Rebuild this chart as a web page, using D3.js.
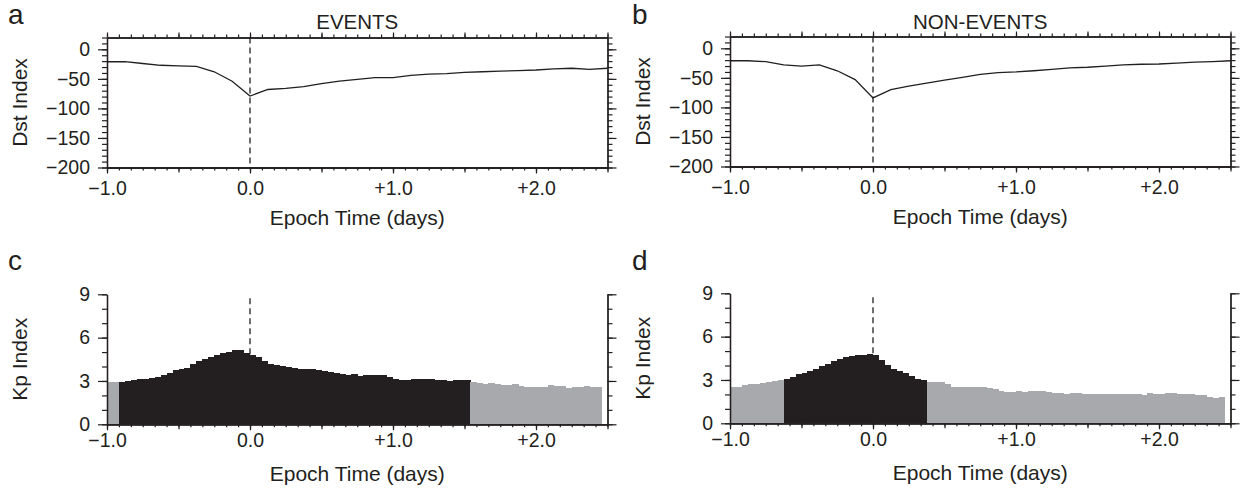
<!DOCTYPE html>
<html><head><meta charset="utf-8">
<script src="https://cdn.jsdelivr.net/npm/d3@7"></script>
<style>
body{margin:0;background:#fff}
text{font-family:"Liberation Sans",Arial,Helvetica,sans-serif;fill:#231f20}
</style>
</head><body>
<svg id="chart" width="1246" height="492"></svg>
<script>
// ---- data ----
const dstTimes = [-1,-0.875,-0.75,-0.625,-0.5,-0.375,-0.25,-0.125,0,0.125,0.25,0.375,0.5,0.625,0.75,0.875,1,1.125,1.25,1.375,1.5,1.625,1.75,1.875,2,2.125,2.25,2.375,2.5];
const dstEvents = [-21,-21,-24,-27,-28,-29,-38,-54,-79,-68,-66,-63,-58,-54,-51,-48,-48,-44,-42,-41,-39,-38,-37,-36,-35,-33,-32,-34,-32];
const dstNonEvents = [-21,-21,-22.5,-28,-30,-28,-38,-53,-84,-70,-64,-59,-54,-49,-44,-41,-40,-38,-35.5,-33,-32,-30,-28,-27,-26.5,-25,-23.5,-22.5,-21];
const kpEvents = [2.91,2.91,2.96,2.98,3.07,3.11,3.16,3.20,3.27,3.42,
  3.58,3.74,3.81,3.93,4.20,4.39,4.52,4.64,4.80,4.94,
  5.03,5.12,5.17,4.96,4.80,4.66,4.39,4.18,4.11,4.04,
  4.00,3.93,3.86,3.81,3.81,3.79,3.70,3.65,3.53,3.46,
  3.42,3.46,3.37,3.42,3.39,3.42,3.39,3.25,3.16,3.09,
  3.09,3.11,3.11,3.11,3.11,3.09,3.07,3.02,3.09,3.07,
  3.04,2.93,2.86,2.79,2.88,2.77,2.74,2.74,2.77,2.65,
  2.58,2.56,2.56,2.56,2.70,2.63,2.63,2.54,2.56,2.56,
  2.63,2.58,2.56];
const kpNonEvents = [2.49,2.49,2.65,2.70,2.74,2.81,2.86,2.91,3.00,3.07,
  3.21,3.40,3.48,3.60,3.76,3.95,4.08,4.30,4.45,4.59,
  4.68,4.73,4.73,4.77,4.70,4.38,4.04,3.79,3.63,3.47,
  3.30,3.05,2.98,2.89,2.89,2.89,2.72,2.51,2.49,2.49,
  2.53,2.54,2.49,2.42,2.35,2.24,2.19,2.19,2.26,2.19,
  2.21,2.21,2.21,2.17,2.08,2.08,2.01,2.08,2.08,2.05,
  2.05,2.05,2.01,2.01,2.01,2.01,2.03,2.01,2.01,1.98,
  2.08,2.05,2.05,2.08,2.08,2.05,2.03,2.01,1.98,1.94,
  1.80,1.75,1.84];
const kpBinHours = 1;               // bin width (hours)
const kpEventsBlack = [2, 60];      // bin index range drawn dark
const kpNonEventsBlack = [9, 32];
const xDomain = [-1, 2.5];
const xTicks = [-1, 0, 1, 2];
const xTickLabels = ["\u22121.0", "0.0", "+1.0", "+2.0"];
const dstDomain = [-200, 20];
const dstTicks = [0, -50, -100, -150, -200];
const kpDomain = [0, 9];
const kpTicks = [0, 3, 6, 9];
const panelLetters = ["a", "b", "c", "d"];
const panelTitles = ["EVENTS", "NON-EVENTS"];
const xTitle = "Epoch Time (days)";
const dstTitle = "Dst Index";
const kpTitle = "Kp Index";

// ---- layout ----
const svg = d3.select("#chart");
const INK = "#231f20", GREY = "#a7a9ac";
const FONT = '"Liberation Sans",Arial,sans-serif';
const panels = [
  {x0:107, x1:607.5, y0:37.5, y1:167.5, kind:"dst", data:dstEvents, title:panelTitles[0], letter:panelLetters[0], lx:8, ly:24},
  {x0:730, x1:1230.5, y0:36.5, y1:166.5, kind:"dst", data:dstNonEvents, title:panelTitles[1], letter:panelLetters[1], lx:632, ly:24},
  {x0:107, x1:607.5, y0:294.3, y1:424.3, kind:"kp", data:kpEvents, black:kpEventsBlack, letter:panelLetters[2], lx:8, ly:270},
  {x0:730, x1:1230.5, y0:293.3, y1:423.3, kind:"kp", data:kpNonEvents, black:kpNonEventsBlack, letter:panelLetters[3], lx:632, ly:270}
];

const minorX = d3.range(-12, 31).map(k => k / 12);
const halfX = [-1, -0.5, 0, 0.5, 1, 1.5, 2, 2.5];

function styleAxis(g){
  g.selectAll("path.domain").attr("stroke", INK).attr("stroke-width", 1.3);
  g.selectAll(".tick line").attr("stroke", INK).attr("stroke-width", 1.2);
}

panels.forEach(p => {
  const g = svg.append("g");
  const x = d3.scaleLinear().domain(xDomain).range([p.x0, p.x1]);
  const isDst = p.kind === "dst";
  const y = d3.scaleLinear().domain(isDst ? dstDomain : kpDomain).range([p.y1, p.y0]);
  const yMajor = isDst ? dstTicks : kpTicks;
  const yMinor = isDst ? d3.range(-200, 21, 10) : d3.range(0, 10, 1);

  // dashed epoch line
  g.append("line")
    .attr("x1", x(0)).attr("x2", x(0))
    .attr("y1", isDst ? y(dstDomain[1]) : p.y0 + 4).attr("y2", p.y1)
    .attr("stroke", INK).attr("stroke-width", 1.3).attr("stroke-dasharray", "6,4");

  if (isDst) {
    const line = d3.line().x((d, i) => x(dstTimes[i])).y(d => y(d));
    g.append("path").datum(p.data).attr("d", line)
      .attr("fill", "none").attr("stroke", INK).attr("stroke-width", 1.3);
  } else {
    const bw = kpBinHours / 24;
    g.selectAll("rect.kp").data(p.data).join("rect")
      .attr("x", (d, i) => x(xDomain[0] + i * bw))
      .attr("width", (d, i) => x(xDomain[0] + (i + 1) * bw) - x(xDomain[0] + i * bw) + 0.4)
      .attr("y", d => y(d))
      .attr("height", d => y(0) - y(d))
      .attr("fill", (d, i) => (i >= p.black[0] && i <= p.black[1]) ? INK : GREY)
      .attr("shape-rendering", "crispEdges");
  }

  // bottom axis: minor, half, major ticks
  const bMinor = g.append("g").attr("transform", `translate(0,${p.y1})`)
    .call(d3.axisBottom(x).tickValues(minorX).tickSize(3).tickSizeOuter(0).tickFormat(""));
  styleAxis(bMinor);
  const bHalf = g.append("g").attr("transform", `translate(0,${p.y1})`)
    .call(d3.axisBottom(x).tickValues(halfX).tickSize(5).tickSizeOuter(0).tickFormat(""));
  styleAxis(bHalf);
  const bMaj = g.append("g").attr("transform", `translate(0,${p.y1})`)
    .call(d3.axisBottom(x).tickValues(xTicks).tickSize(6).tickSizeOuter(0)
      .tickFormat((d, i) => xTickLabels[i]));
  styleAxis(bMaj);
  bMaj.selectAll("text").attr("dy", 0).attr("y", isDst ? 27.5 : 23)
    .style("font-size", "19.5px").attr("fill", INK).style("font-family", FONT);

  if (isDst) {
    const tMinor = g.append("g").attr("transform", `translate(0,${p.y0})`)
      .call(d3.axisTop(x).tickValues(minorX).tickSize(3).tickSizeOuter(0).tickFormat(""));
    styleAxis(tMinor);
    const tHalf = g.append("g").attr("transform", `translate(0,${p.y0})`)
      .call(d3.axisTop(x).tickValues(halfX).tickSize(5).tickSizeOuter(0).tickFormat(""));
    styleAxis(tHalf);
  }

  // left axis
  const lMinor = g.append("g").attr("transform", `translate(${p.x0},0)`)
    .call(d3.axisLeft(y).tickValues(yMinor).tickSize(5).tickSizeOuter(0).tickFormat(""));
  styleAxis(lMinor);
  const lMaj = g.append("g").attr("transform", `translate(${p.x0},0)`)
    .call(d3.axisLeft(y).tickValues(yMajor).tickSize(9).tickSizeOuter(0).tickPadding(8)
      .tickFormat(d3.format("d")));
  styleAxis(lMaj);
  lMaj.selectAll("text").style("font-size", "19.5px").attr("fill", INK).style("font-family", FONT);

  // right axis
  const rMinor = g.append("g").attr("transform", `translate(${p.x1},0)`)
    .call(d3.axisRight(y).tickValues(yMinor).tickSize(5).tickSizeOuter(0).tickFormat(""));
  styleAxis(rMinor);
  const rMaj = g.append("g").attr("transform", `translate(${p.x1},0)`)
    .call(d3.axisRight(y).tickValues(yMajor).tickSize(9).tickSizeOuter(0).tickFormat(""));
  styleAxis(rMaj);

  // axis titles
  g.append("text").attr("x", (p.x0 + p.x1) / 2).attr("y", p.y1 + 57)
    .attr("text-anchor", "middle").style("font-size", "21px").text(xTitle);
  g.append("text")
    .attr("transform", `translate(${p.x0 - 80.5},${(p.y0 + p.y1) / 2}) rotate(-90)`)
    .attr("text-anchor", "middle").style("font-size", "21px").text(isDst ? dstTitle : kpTitle);

  if (p.title) {
    g.append("text").attr("x", (p.x0 + p.x1) / 2).attr("y", 28.5)
      .attr("text-anchor", "middle").style("font-size", "20.5px").text(p.title);
  }
  g.append("text").attr("x", p.lx).attr("y", p.ly)
    .style("font-size", "28px").text(p.letter);
});
</script>
</body></html>
